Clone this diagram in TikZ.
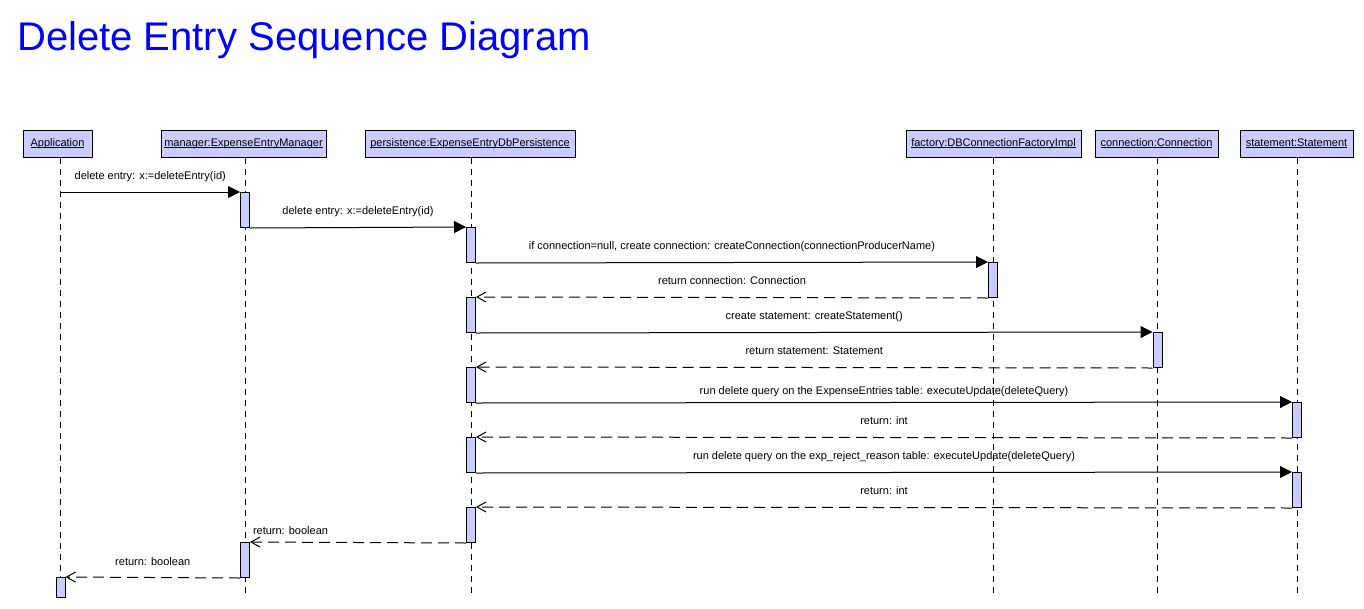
\documentclass[tikz,border=0pt]{standalone}
\usepackage{fontspec}
\setmainfont{Liberation Sans}
\usetikzlibrary{arrows.meta}
\definecolor{actfill}{RGB}{204,204,255}
\definecolor{titleblue}{RGB}{0,0,255}
\newcommand\uln[1]{\setbox0\hbox{#1}\rlap{\rule[-1.8pt]{\wd0}{0.9pt}}\box0}
\begin{document}
\begin{tikzpicture}[x=1pt,y=-1pt,
  objbox/.style={draw=black,line width=1pt,fill=actfill,minimum height=27pt,inner sep=0pt,font=\fontsize{11}{13}\selectfont},
  act/.style={draw=black,line width=1pt,fill=actfill,minimum width=9pt,minimum height=35pt,inner sep=0pt,anchor=north},
  lifeline/.style={line width=1pt,dash pattern=on 6pt off 5pt},
  sync/.style={line width=1pt,-{Triangle[length=12pt,width=12pt]}},
  reply/.style={line width=1pt,dash pattern=on 11pt off 6pt,-{Straight Barb[length=9pt,width=10pt]}},
  msg/.style={font=\fontsize{11}{13}\selectfont,anchor=base,inner sep=0pt,yshift=13pt}]
\useasboundingbox (0,0) rectangle (1364,608);

% title
\node[anchor=base west,inner sep=0pt,text=titleblue,font=\fontsize{40}{48}\selectfont] (title) at (17,50.7) {Delete Entry Sequence Diagram};

% object boxes
\node[objbox,minimum width=69pt]  (app)  at (57.5,143.5)  {\uln{Application}};
\node[objbox,minimum width=165pt] (man)  at (243.5,143.5) {\uln{manager:ExpenseEntryManager}};
\node[objbox,minimum width=210pt] (per)  at (470,143.5)   {\uln{persistence:ExpenseEntryDbPersistence}};
\node[objbox,minimum width=175pt] (fac)  at (993.5,143.5) {\uln{factory:DBConnectionFactoryImpl}};
\node[objbox,minimum width=123pt] (con)  at (1156.5,143.5){\uln{connection:Connection}};
\node[objbox,minimum width=113pt] (sta)  at (1296.5,143.5){\uln{statement:Statement}};

% lifeline ends
\coordinate (appEnd) at (60.5,597);
\coordinate (manEnd) at (245,597);
\coordinate (perEnd) at (471,597);
\coordinate (facEnd) at (993,597);
\coordinate (conEnd) at (1157.5,597);
\coordinate (staEnd) at (1297,597);

\draw[lifeline] (app.south -| appEnd) -- (appEnd);
\draw[lifeline] (man.south -| manEnd) -- (manEnd);
\draw[lifeline] (per.south -| perEnd) -- (perEnd);
\draw[lifeline] (fac.south -| facEnd) -- (facEnd);
\draw[lifeline] (con.south -| conEnd) -- (conEnd);
\draw[lifeline] (sta.south -| staEnd) -- (staEnd);

% activations
\node[act] (m1) at (245,192) {};
\node[act] (p1) at (471,227) {};
\node[act] (f1) at (993,262) {};
\node[act] (p2) at (471,297) {};
\node[act] (c1) at (1157.5,332) {};
\node[act] (p3) at (471,367) {};
\node[act] (s1) at (1297,402) {};
\node[act] (p4) at (471,437) {};
\node[act] (s2) at (1297,472) {};
\node[act] (p5) at (471,507) {};
\node[act] (m2) at (245,542) {};
\node[act,minimum height=20pt] (a1) at (60.5,577) {};

% messages
\draw[sync] (m1.north west -| appEnd) -- node[msg] {delete entry: x:=deleteEntry(id)} (m1.north west);
\draw[sync] (m1.south east) -- node[msg] {delete entry: x:=deleteEntry(id)} (p1.north west);
\draw[sync] (p1.south east) -- node[msg] {if connection=null, create connection: createConnection(connectionProducerName)} (f1.north west);
\draw[reply] (f1.south west) -- node[msg] {return connection: Connection} (p2.north east);
\draw[sync] (p2.south east) -- node[msg] {create statement: createStatement()} (c1.north west);
\draw[reply] (c1.south west) -- node[msg] {return statement: Statement} (p3.north east);
\draw[sync] (p3.south east) -- node[msg,yshift=-5pt] {run delete query on the ExpenseEntries table: executeUpdate(deleteQuery)} (s1.north west);
\draw[reply] (s1.south west) -- node[msg] {return: int} (p4.north east);
\draw[sync] (p4.south east) -- node[msg] {run delete query on the exp\_reject\_reason table: executeUpdate(deleteQuery)} (s2.north west);
\draw[reply] (s2.south west) -- node[msg] {return: int} (p5.north east);
\draw[reply] (p5.south west) -- node[msg,pos=1,anchor=base west,xshift=2.5pt,yshift=-5pt] {return: boolean} (m2.north east);
\draw[reply] (m2.south west) -- node[msg,yshift=-1pt] {return: boolean} (a1.north east);
\end{tikzpicture}
\end{document}
